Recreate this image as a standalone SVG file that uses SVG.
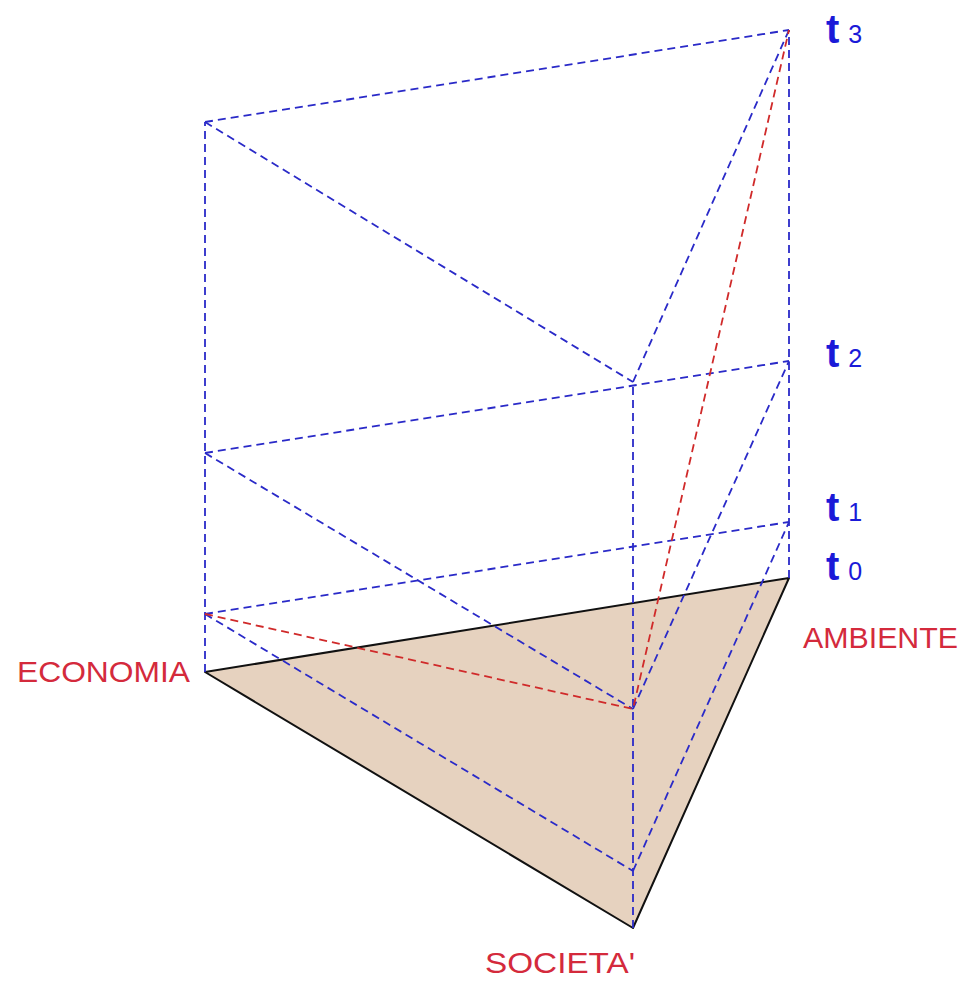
<svg xmlns="http://www.w3.org/2000/svg" width="967" height="984" viewBox="0 0 967 984">
<style>
.b{stroke:#2a2ac8;stroke-width:1.8;stroke-dasharray:8 5;fill:none}
.r{stroke:#d02a2a;stroke-width:1.8;stroke-dasharray:8 5;fill:none}
.lab{font-family:"Liberation Sans",Arial,sans-serif;font-size:29px;fill:#d42a3c}
.t{font-family:"Liberation Sans",Arial,sans-serif;fill:#1a1ad8}
.tb{font-size:40px;font-weight:bold}
.ts{font-size:25px}
</style>
<rect width="967" height="984" fill="#ffffff"/>
<g id="base">
<polygon points="205,672 789,578 633,928" fill="#e6d2bf" stroke="#111" stroke-width="2" stroke-linejoin="round"/>
</g>
<g id="connectors">
<line class="b" x1="205" y1="672" x2="205" y2="122"/>
<line class="b" x1="633" y1="928" x2="633" y2="382"/>
<line class="b" x1="789" y1="578" x2="789" y2="30"/>
<line class="b" x1="205" y1="614" x2="789" y2="522"/>
<line class="b" x1="205" y1="614" x2="633" y2="871"/>
<line class="b" x1="633" y1="871" x2="789" y2="522"/>
<line class="b" x1="205" y1="453" x2="789" y2="361"/>
<line class="b" x1="205" y1="453" x2="633" y2="709"/>
<line class="b" x1="633" y1="709" x2="789" y2="361"/>
<line class="b" x1="205" y1="122" x2="789" y2="30"/>
<line class="b" x1="205" y1="122" x2="633" y2="382"/>
<line class="b" x1="633" y1="382" x2="789" y2="30"/>
<polyline class="r" points="205,614 633,709 789,30"/>
</g>
<g id="economia"><text class="lab" x="17" y="682" textLength="173" lengthAdjust="spacingAndGlyphs">ECONOMIA</text></g>
<g id="ambiente"><text class="lab" x="803" y="648" textLength="155" lengthAdjust="spacingAndGlyphs">AMBIENTE</text></g>
<g id="societa"><text class="lab" x="485" y="973" textLength="150" lengthAdjust="spacingAndGlyphs">SOCIETA'</text></g>
<g id="t3"><text class="t" x="826" y="43"><tspan class="tb">t</tspan><tspan class="ts" dx="9">3</tspan></text></g>
<g id="t2"><text class="t" x="826" y="367"><tspan class="tb">t</tspan><tspan class="ts" dx="9">2</tspan></text></g>
<g id="t1"><text class="t" x="826" y="521"><tspan class="tb">t</tspan><tspan class="ts" dx="9">1</tspan></text></g>
<g id="t0"><text class="t" x="826" y="580"><tspan class="tb">t</tspan><tspan class="ts" dx="9">0</tspan></text></g>
</svg>
